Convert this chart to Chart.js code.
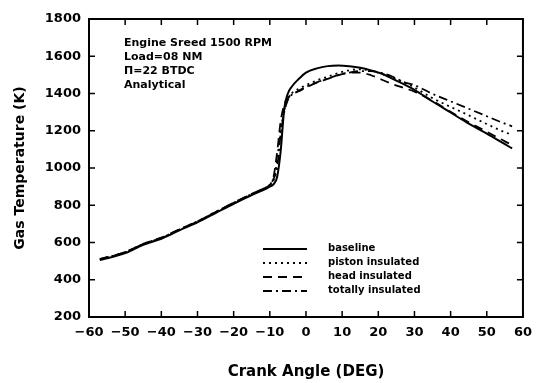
<!DOCTYPE html>
<html>
<head>
<meta charset="utf-8">
<script src="https://cdn.jsdelivr.net/npm/chart.js@4.4.1/dist/chart.umd.min.js"></script>
<style>
  html, body { margin: 0; padding: 0; background: #fff; }
  #wrap { width: 540px; height: 383px; position: relative; }
</style>
</head>
<body>
<div id="wrap"><canvas id="tempChart"></canvas></div>
<script>
// Crank angle (deg) shared by all four curves
const angles = [-57, -55, -50, -45, -40, -35, -30, -25, -20, -15, -12, -10, -9, -8, -7, -6, -5, -4, -2, 0,
  3, 6, 9, 12, 15, 18, 21, 24, 27, 30, 35, 40, 45, 50, 55, 57];

// Gas temperature (K)
const baseline = [506, 515, 543, 588, 620, 665, 708, 758, 808, 855, 880, 900, 912, 950, 1090, 1320, 1400, 1435, 1478, 1512,
  1535, 1547, 1550, 1546, 1538, 1524, 1506, 1478, 1450, 1420, 1357, 1298, 1238, 1185, 1128, 1105];
const pistonInsulated = [510, 520, 548, 592, 625, 670, 713, 763, 813, 860, 887, 908, 930, 1040, 1200, 1310, 1370, 1400, 1425, 1445,
  1470, 1490, 1510, 1525, 1530, 1522, 1505, 1485, 1460, 1432, 1375, 1328, 1283, 1236, 1192, 1178];
const headInsulated = [511, 521, 549, 593, 626, 671, 714, 764, 814, 861, 888, 910, 950, 1080, 1250, 1340, 1375, 1395, 1412, 1432,
  1458, 1478, 1498, 1512, 1512, 1498, 1474, 1450, 1430, 1410, 1360, 1302, 1245, 1195, 1143, 1124];
const totallyInsulated = [510, 520, 548, 592, 625, 670, 713, 763, 813, 860, 887, 909, 940, 1000, 1180, 1300, 1365, 1392, 1415, 1435,
  1460, 1480, 1500, 1512, 1520, 1520, 1510, 1490, 1462, 1445, 1398, 1358, 1318, 1278, 1238, 1224];

const seriesNames = ['baseline', 'piston insulated', 'head insulated', 'totally insulated'];
const seriesDash = [[], [2, 4], [9, 6], [9, 4, 2, 4]];
const noteLines = ['Engine Sreed 1500 RPM', 'Load=08 NM', 'Π=22 BTDC', 'Analytical'];

const xTicks = [-60, -50, -40, -30, -20, -10, 0, 10, 20, 30, 40, 50, 60];
const yTicks = [200, 400, 600, 800, 1000, 1200, 1400, 1600, 1800];

const FONT = '"DejaVu Sans", sans-serif';

function toPoints(vals) {
  return angles.map((a, i) => ({ x: a, y: vals[i] }));
}

const allSeries = [baseline, pistonInsulated, headInsulated, totallyInsulated];

// inner tick marks, frame, note text and legend
const paperPlugin = {
  id: 'paper',
  afterDraw(chart) {
    const c = chart.ctx;
    const a = chart.chartArea;
    const xs = chart.scales.x, ys = chart.scales.y;
    c.save();
    c.strokeStyle = '#000';
    c.lineWidth = 2;
    c.setLineDash([]);
    c.strokeRect(a.left, a.top, a.right - a.left, a.bottom - a.top);

    c.lineWidth = 1.5;
    c.beginPath();
    xTicks.forEach(v => {
      const px = xs.getPixelForValue(v);
      c.moveTo(px, a.bottom); c.lineTo(px, a.bottom - 6);
      c.moveTo(px, a.top); c.lineTo(px, a.top + 6);
    });
    yTicks.forEach(v => {
      const py = ys.getPixelForValue(v);
      c.moveTo(a.left, py); c.lineTo(a.left + 6, py);
      c.moveTo(a.right, py); c.lineTo(a.right - 6, py);
    });
    c.stroke();

    // note in the upper left
    c.fillStyle = '#000';
    c.font = 'bold 11px ' + FONT;
    c.textBaseline = 'middle';
    c.textAlign = 'left';
    noteLines.forEach((t, i) => c.fillText(t, 124, 43 + i * 14));

    // legend in the lower right
    c.font = 'bold 10px ' + FONT;
    seriesNames.forEach((name, i) => {
      const y = 249 + i * 14;
      c.lineWidth = i === 0 ? 2 : 1.8;
      c.setLineDash(seriesDash[i]);
      c.beginPath();
      c.moveTo(263, y); c.lineTo(307, y);
      c.stroke();
      c.setLineDash([]);
      c.fillText(name, 328, y - 1);
    });
    c.restore();
  }
};

const ctx = document.getElementById('tempChart').getContext('2d');

const tempChart = new Chart(ctx, {
  type: 'line',
  data: {
    datasets: seriesNames.map((name, i) => ({
      label: name,
      data: toPoints(allSeries[i]),
      borderColor: '#000',
      borderWidth: i === 0 ? 2 : 1.8,
      borderDash: seriesDash[i],
      pointRadius: 0,
      fill: false,
      cubicInterpolationMode: 'monotone'
    }))
  },
  options: {
    responsive: true,
    maintainAspectRatio: false,
    animation: false,
    layout: { padding: { top: 19, right: 17, left: 0, bottom: 0 } },
    plugins: {
      legend: { display: false },
      tooltip: { enabled: false }
    },
    scales: {
      x: {
        type: 'linear',
        min: -60,
        max: 60,
        afterFit: s => { s.height = 66; },
        afterBuildTicks: s => { s.ticks = xTicks.map(v => ({ value: v })); },
        grid: { display: false, drawTicks: false },
        border: { display: true, color: '#000', width: 2 },
        ticks: {
          color: '#000',
          padding: 8,
          font: { family: FONT, size: 13, weight: 'bold' },
          callback: v => (v < 0 ? '\u2212' + Math.abs(v) : String(v))
        },
        title: {
          display: true,
          text: 'Crank Angle (DEG)',
          color: '#000',
          font: { family: FONT, size: 15, weight: 'bold' },
          padding: { top: 0, bottom: 2 }
        }
      },
      y: {
        min: 200,
        max: 1800,
        afterFit: s => { s.width = 89; },
        afterBuildTicks: s => { s.ticks = yTicks.map(v => ({ value: v })); },
        grid: { display: false, drawTicks: false },
        border: { display: true, color: '#000', width: 2 },
        ticks: {
          color: '#000',
          padding: 8,
          font: { family: FONT, size: 13, weight: 'bold' },
          callback: v => String(v)
        },
        title: {
          display: true,
          text: 'Gas Temperature (K)',
          color: '#000',
          font: { family: FONT, size: 14, weight: 'bold' },
          padding: { top: 12, bottom: 0 }
        }
      }
    }
  },
  plugins: [paperPlugin]
});
</script>
</body>
</html>
